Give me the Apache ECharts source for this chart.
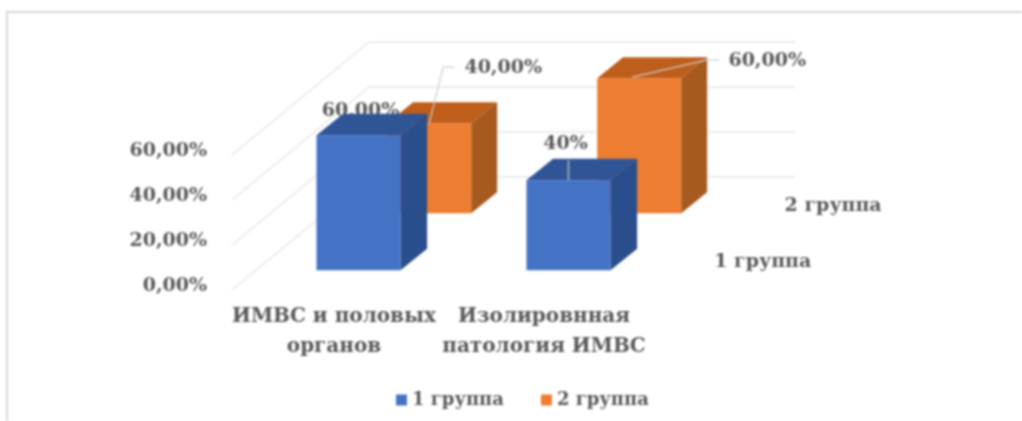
<!DOCTYPE html>
<html><head><meta charset="utf-8">
<style>html,body{margin:0;padding:0;background:#fff;overflow:hidden}#c{width:1022px;height:421px;filter:blur(0.9px)}</style>
<script src="https://cdn.jsdelivr.net/npm/echarts@6/dist/echarts.min.js"></script>
</head><body><div id="c"></div>
<script>
const categories = ['ИМВС и половых\nорганов', 'Изолировнная\nпатология ИМВС'];
const seriesNames = ['1 группа', '2 группа'];
const group1 = [0.6, 0.4];
const group2 = [0.4, 0.6];
const group1Labels = ['60,00%', '40%'];
const group2Labels = ['40,00%', '60,00%'];
const yTicks = [0, 0.2, 0.4, 0.6];
const yTickLabels = ['0,00%', '20,00%', '40,00%', '60,00%'];

const FONT = '"DejaVu Serif"';
const TXT = '#595959';
const FS = 19;
const DEPTH = [140, -113];
const BAR = 0.4;

function box(api, z0, dz, cols, labelCfg, labelText, depthName) {
  const cat = api.value(0), v = api.value(1);
  const base = api.coord([cat, 0]), top = api.coord([cat, v]);
  const w = api.size([1, 0])[0] * BAR;
  const sx = DEPTH[0] * z0, sy = DEPTH[1] * z0;
  const dx = DEPTH[0] * dz, dy = DEPTH[1] * dz;
  const l = base[0] + sx - w / 2, r = l + w, b = base[1] + sy, t = top[1] + sy;
  const poly = (pts, fill) => ({ type: 'polygon', shape: { points: pts }, style: { fill: fill } });
  const faces = [
    poly([[l, t], [r, t], [r + dx, t + dy], [l + dx, t + dy]], cols[1]),
    poly([[r, b], [r + dx, b + dy], [r + dx, t + dy], [r, t]], cols[2]),
    poly([[l, b], [r, b], [r, t], [l, t]], cols[0])
  ];
  const cx = (l + r) / 2, ax = cx + labelCfg.anchor[0], ay = t + labelCfg.anchor[1];
  const lab = [];
  if (labelCfg.leader) lab.push({
    type: 'polyline',
    shape: { points: labelCfg.leader.map(p => [cx + p[0], t + p[1]]) },
    style: { stroke: '#cfcfcf', lineWidth: 1.2, fill: null }
  });
  lab.push({
    type: 'text',
    style: { x: ax, y: ay, text: labelText, fill: TXT, font: 'bold ' + FS + 'px ' + FONT, align: 'center', verticalAlign: 'middle' }
  });
  const kids = labelCfg.behind ? lab.concat(faces) : faces.concat(lab);
  if (depthName) {
    const end = api.coord([1, 0])[0] + api.size([1, 0])[0] / 2;
    const zc = z0 + dz / 2;
    kids.push({
      type: 'text',
      style: { x: end + DEPTH[0] * zc + 76, y: base[1] + DEPTH[1] * zc + 3, text: depthName, fill: TXT,
        font: 'bold ' + FS + 'px ' + FONT, align: 'center', verticalAlign: 'middle' }
    });
  }
  return { type: 'group', children: kids };
}

const blueCols = ['#4472C4', '#2F5597', '#2A4E8C'];
const orangeCols = ['#ED7D31', '#BF5D1A', '#A65A1F'];
const blueLayout = [
  { anchor: [2, -24], behind: true },
  { anchor: [-3, -36], leader: [[0, 0], [0, -20]] }
];
const orangeLayout = [
  { anchor: [74, -55], leader: [[0, 0], [14, -56], [25, -56]] },
  { anchor: [128, -17], leader: [[-7, -1], [67, -18], [80, -18]] }
];

const option = {
  animation: false,
  backgroundColor: '#fff',
  grid: { left: 229, top: 155, width: 420, height: 135 },
  xAxis: {
    type: 'category', data: categories,
    axisLine: { show: false }, axisTick: { show: false }, splitLine: { show: false },
    axisLabel: { interval: 0, margin: 12, color: TXT, fontFamily: FONT, fontWeight: 'bold', fontSize: 20, lineHeight: 30 }
  },
  yAxis: {
    type: 'value', min: 0, max: 0.6, interval: 0.2,
    axisLine: { show: false }, axisTick: { show: false }, splitLine: { show: false },
    axisLabel: {
      margin: 22, color: TXT, fontFamily: FONT, fontWeight: 'bold', fontSize: FS,
      verticalAlign: 'bottom', lineHeight: 8,
      formatter: v => yTickLabels[yTicks.findIndex(t => Math.abs(t - v) < 1e-9)]
    }
  },
  legend: {
    data: seriesNames, left: 391, top: 386, itemWidth: 11, itemHeight: 11, itemGap: 37,
    textStyle: { color: TXT, fontFamily: FONT, fontWeight: 'bold', fontSize: 18 }, icon: 'rect'
  },
  graphic: [{
    type: 'polyline', silent: true, z: 0,
    shape: { points: [[7, 421], [7, 12], [1022, 12]] },
    style: { stroke: '#d8d8d8', lineWidth: 2, fill: null }
  }],
  series: [
    {
      type: 'custom', name: 'wall', z: 1, silent: true, clip: false, legendHoverLink: false,
      data: yTicks.map(v => [0, v]), encode: { x: 0, y: 1 },
      renderItem: (params, api) => {
        const p = api.coord([0, api.value(1)]);
        const x0 = params.coordSys.x, w = params.coordSys.width;
        return {
          type: 'polyline',
          shape: { points: [[x0 + 3, p[1]], [x0 + DEPTH[0], p[1] + DEPTH[1]], [x0 + DEPTH[0] + w + 6, p[1] + DEPTH[1]]] },
          style: { stroke: '#e8e8e8', lineWidth: 1.5, fill: null }
        };
      }
    },
    {
      type: 'custom', name: seriesNames[1], z: 2, clip: false, itemStyle: { color: '#ED7D31' },
      data: group2.map((v, i) => [i, v]), encode: { x: 0, y: 1 },
      renderItem: (params, api) => box(api, 0.68, 0.185, orangeCols, orangeLayout[params.dataIndex],
        group2Labels[params.dataIndex], params.dataIndex === 0 ? seriesNames[1] : null)
    },
    {
      type: 'custom', name: seriesNames[0], z: 3, clip: false, itemStyle: { color: '#4472C4' },
      data: group1.map((v, i) => [i, v]), encode: { x: 0, y: 1 },
      renderItem: (params, api) => box(api, 0.175, 0.19, blueCols, blueLayout[params.dataIndex],
        group1Labels[params.dataIndex], params.dataIndex === 0 ? seriesNames[0] : null)
    }
  ]
};
echarts.init(document.getElementById('c')).setOption(option);
</script></body></html>
